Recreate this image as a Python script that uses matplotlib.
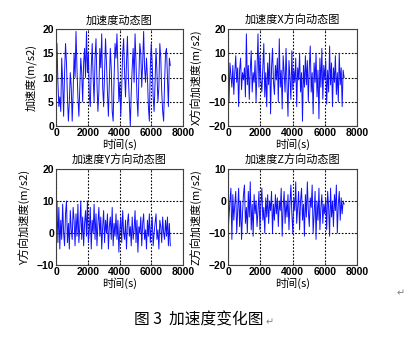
import numpy as np
import matplotlib
matplotlib.use("Agg")
import matplotlib.pyplot as plt

plt.rcParams['font.family'] = ['Noto Sans CJK SC', 'DejaVu Sans']

# ---- data ----
acc_total = [13, 17, 9, 4, 6, 3, 14, 9, 2, 11, 17, 13, 6, 1, 5, 11, 8, 1, 7, 15,
             10, 19.5, 12, 6, 2, 8, 14, 11, 5, 13, 16, 10, 19.5, 11, 15, 6, 4, 12, 17, 10,
             5, 14, 18, 9, 3, 7, 16, 12, 19, 8, 4, 11, 18, 13, 7, 2, 9, 16, 12, 3,
             1, 10, 17, 14, 19, 12, 5, 9, 2, 8, 15, 18, 11, 6, 13, 18.5, 10, 5, 0, 7,
             12, 16, 9, 19, 13, 6, 2, 10, 17, 15, 8, 13, 19.5, 12, 9, 14, 10, 4, 1, 12,
             17, 13, 6, 3, 9, 16, 11, 5, 8, 17, 14, 7, 3, 1, 9, 15, 16, 10, 4, 14, 12.5]
acc_x = [14, -10, 6, 1, -4, 5, -7, 2, 9, -2, 4, -12, 3, 8, -5, 2, -1, 4, -8, 18,
         -3, 5, -9, 3, 11, -6, 2, -2, 7, -10, 3, 18, -4, 9, -1, -6, 4, 14, -8, 2,
         -12, 6, -3, 10, -15, 4, 12, -2, -7, 5, -1, 8, -10, 16, -4, 3, -13, 9, 2, -6,
         12, -3, -16, 7, 0, -9, 11, -5, 3, -2, 8, -12, 4, -1, 10, -6, 2, -18, 5, -4,
         9, -3, 7, -10, 4, 13, -6, 2, -15, 6, -2, 10, -8, 3, -17, 8, -4, 12, -9, 5,
         -1, 7, -11, 3, -6, 13, -3, 6, -12, 4, -2, 9, -7, 2, -10, 10, -3, 4, -12, 3, 0]
acc_y = [5, 10, -3, 8, -5, 4, -2, 9, 0, -4, 6, 10, -3, 3, -5, 7, 1, -2, 8, 4,
         -4, 6, -1, 9, -3, 2, 10, -2, 5, -4, 3, 7, -1, 10, -3, 1, 8, -5, 4, 0,
         9, -2, 6, -4, 3, 8, -1, 5, -5, 2, 7, -3, 4, 0, 6, -5, 2, 5, -2, 8,
         -4, 3, -1, 6, -2, 4, -6, 1, 5, -3, 7, 0, -2, 4, -5, 3, 6, -1, 2, -4,
         5, -2, 1, 7, -3, 4, -6, 2, 0, 5, -4, 3, 6, -2, 1, -5, 4, -1, 6, -3,
         2, 5, -4, 0, 3, 6, -2, 1, -5, 4, 2, -3, 5, 0, -2, 4, -1, 5, -4, 3, -4]
acc_z = [-10, -5, 0, 4, -12, 2, -6, -1, 3, -10, -3, 4, -8, 0, -12, -4, 2, 5, -7, -2,
         -10, 3, -5, 6, -9, -1, -11, 2, -4, 0, -8, -3, 3, -9, -1, 4, -6, -2, -10, 1,
         -5, 2, -7, 0, -3, 3, -10, -1, -6, 2, -4, 1, -8, 0, -3, 4, -11, -2, 3, -7,
         0, -5, 2, -9, -1, 5, -4, -10, 1, -3, 6, -7, -2, 3, -9, 0, 4, -6, -1, -11,
         2, -5, 6, -3, -8, 1, -2, 5, -10, -4, 3, -12, 0, -6, 4, -9, -2, 2, -7, -1,
         -4, 1, -9, 3, -2, -11, 4, -5, 0, -8, 2, -3, 5, -10, -1, 3, -6, 1, -4, 0, -1]
sample_step = 60  # seconds between samples

titles = ['加速度动态图', '加速度X方向动态图', '加速度Y方向动态图', '加速度Z方向动态图']
ylabels = ['加速度(m/s2)', 'X方向加速度(m/s2)', 'Y方向加速度(m/s2)', 'Z方向加速度(m/s2)']
xlabel = '时间(s)'
xticks = [0, 2000, 4000, 6000, 8000]
yticks_list = [[0, 5, 10, 15, 20], [-20, -10, 0, 10, 20], [-10, 0, 10, 20], [-20, -10, 0, 10]]
caption = '图 3  加速度变化图'

series = [acc_total, acc_x, acc_y, acc_z]

W, H = 409, 351
fig = plt.figure(figsize=(W / 100, H / 100), dpi=100)
fig.patch.set_facecolor('white')

# pixel boxes: (left, top, width, height)
boxes = [(56, 29, 127, 97), (228, 29, 129, 97), (56, 169, 127, 96), (228, 169, 129, 96)]

for s, ttl, yl, yt, (l, t, w, h) in zip(series, titles, ylabels, yticks_list, boxes):
    ax = fig.add_axes([l / W, 1 - (t + h) / H, w / W, h / H])
    tt = np.arange(len(s)) * sample_step
    ax.plot(tt, s, color='#1010ff', linewidth=0.7)
    ax.set_xlim(0, 8000)
    ax.set_ylim(yt[0], yt[-1])
    ax.set_xticks(xticks)
    ax.set_yticks(yt)
    ax.tick_params(direction='in', length=2, width=0.5, labelsize=7.5, pad=1.5,
                   top=True, right=True, colors='#303030', labelcolor='black')
    for lab in ax.get_xticklabels() + ax.get_yticklabels():
        lab.set_family(['Liberation Sans'])
        lab.set_fontweight('bold')
    ax.grid(True, linestyle=(0, (1.5, 1.5)), color='black', linewidth=0.8)
    for sp in ax.spines.values():
        sp.set_color('#404040')
        sp.set_linewidth(0.8)
    ax.set_title(ttl, fontsize=8, pad=4)
    ax.set_xlabel(xlabel, fontsize=8, labelpad=0)
    ax.set_ylabel(yl, fontsize=8, labelpad=4)

fig.text(134 / W, 1 - 320 / H, caption, fontsize=11.3, va='center', ha='left', color='black')
fig.text(266 / W, 1 - 322 / H, '↵', fontsize=7, va='center', ha='left', color='#808080',
         family=['DejaVu Sans'])
fig.text(397 / W, 1 - 293 / H, '↵', fontsize=7, va='center', ha='left', color='#808080',
         family=['DejaVu Sans'])

fig.savefig('out.png', dpi=100)
